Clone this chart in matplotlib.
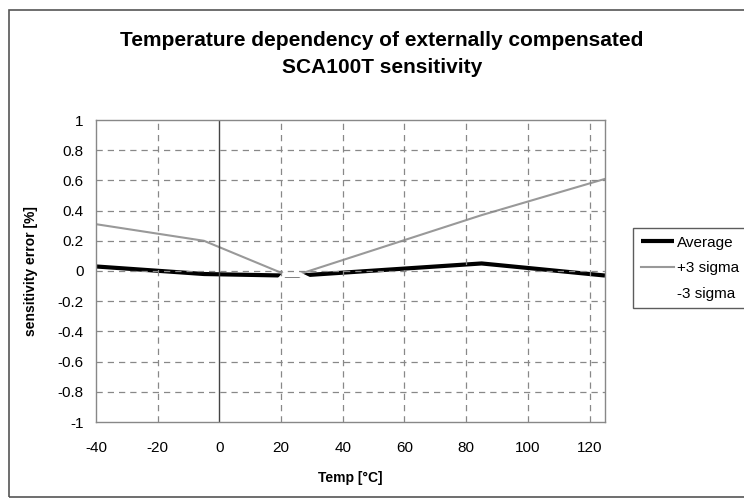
"""
Temperature dependency of SCA100T sensitivity (Excel style chart)
"""
import matplotlib
matplotlib.use('Agg')
import matplotlib.pyplot as plt
from matplotlib.patches import Rectangle

plt.rcParams['font.family'] = ['Liberation Sans', 'DejaVu Sans']
plt.rcParams['axes.unicode_minus'] = False

# data (-3 sigma is drawn in white in the original)
temp_avg = [-40, -5, 21, 26, 85, 125]
average = [0.03, -0.02, -0.03, -0.03, 0.05, -0.03]
temp_plus = [-40, -5, 21, 26, 85, 125]
plus3 = [0.31, 0.20, -0.02, -0.02, 0.37, 0.61]
temp_minus = [-40, -5, 21, 26, 85, 125]
minus3 = [-0.30, -0.60, -0.025, -0.025, -0.60, -0.75]

xticks = list(range(-40, 121, 20))
yticks = [-1, -0.8, -0.6, -0.4, -0.2, 0, 0.2, 0.4, 0.6, 0.8, 1]
yticklabels = ['-1', '-0.8', '-0.6', '-0.4', '-0.2', '0', '0.2', '0.4', '0.6', '0.8', '1']

fig = plt.figure(figsize=(7.44, 4.99), dpi=100)
ax = fig.add_axes([96/744, 1-422/499, (605-96)/744, (422-120)/499])

# outer chart border
fig.patches.append(Rectangle((9/744, 1-497/499), 1.0, (497-10)/499, transform=fig.transFigure,
                             fill=False, edgecolor='#555555', linewidth=1.2))

ax.plot(temp_avg, average, color='black', linewidth=3, label='Average', solid_capstyle='butt', zorder=2)
ax.plot(temp_plus, plus3, color='#999999', linewidth=1.5, label='+3 sigma', zorder=2.1)
ax.plot(temp_minus, minus3, color='white', linewidth=3.5, label='-3 sigma', zorder=2.2)

# gridlines on top
for x in xticks[1:]:
    if x == 0:
        ax.axvline(x, color='#444444', linewidth=1.0, zorder=2.3)
    else:
        ax.axvline(x, color='#888888', linestyle=(0, (5, 4)), linewidth=0.9, zorder=2.3)
for y in yticks[1:-1]:
    ax.axhline(y, color='#888888', linestyle=(0, (5, 4)), linewidth=0.9, zorder=2.3)

ax.set_xlim(-40, 125)
ax.set_ylim(-1, 1)
ax.set_xticks(xticks)
ax.set_yticks(yticks)
ax.set_yticklabels(yticklabels)
ax.tick_params(length=0, labelsize=11, pad=14)
ax.tick_params(axis='y', pad=9)
for s in ax.spines.values():
    s.set_color('#888888')
    s.set_linewidth(1.0)
    s.set_zorder(3)

ax.set_xlabel('Temp [°C]', fontsize=10, fontweight='bold', labelpad=11)
ax.set_ylabel('sensitivity error [%]', fontsize=10, fontweight='bold', labelpad=14)

fig.text(382/744, 1-54/499, 'Temperature dependency of externally compensated\nSCA100T sensitivity',
         ha='center', va='center', fontsize=15, fontweight='bold', linespacing=1.5)

lg = fig.legend(loc='upper left', bbox_to_anchor=(633/744, 1-228/499), fontsize=11,
                frameon=True, fancybox=False, edgecolor='#333333', handlelength=2.2,
                handletextpad=0.15, borderaxespad=0, labelspacing=0.75, borderpad=0.5)
lg.get_frame().set_linewidth(1.0)

fig.savefig('out.png', dpi=100)
